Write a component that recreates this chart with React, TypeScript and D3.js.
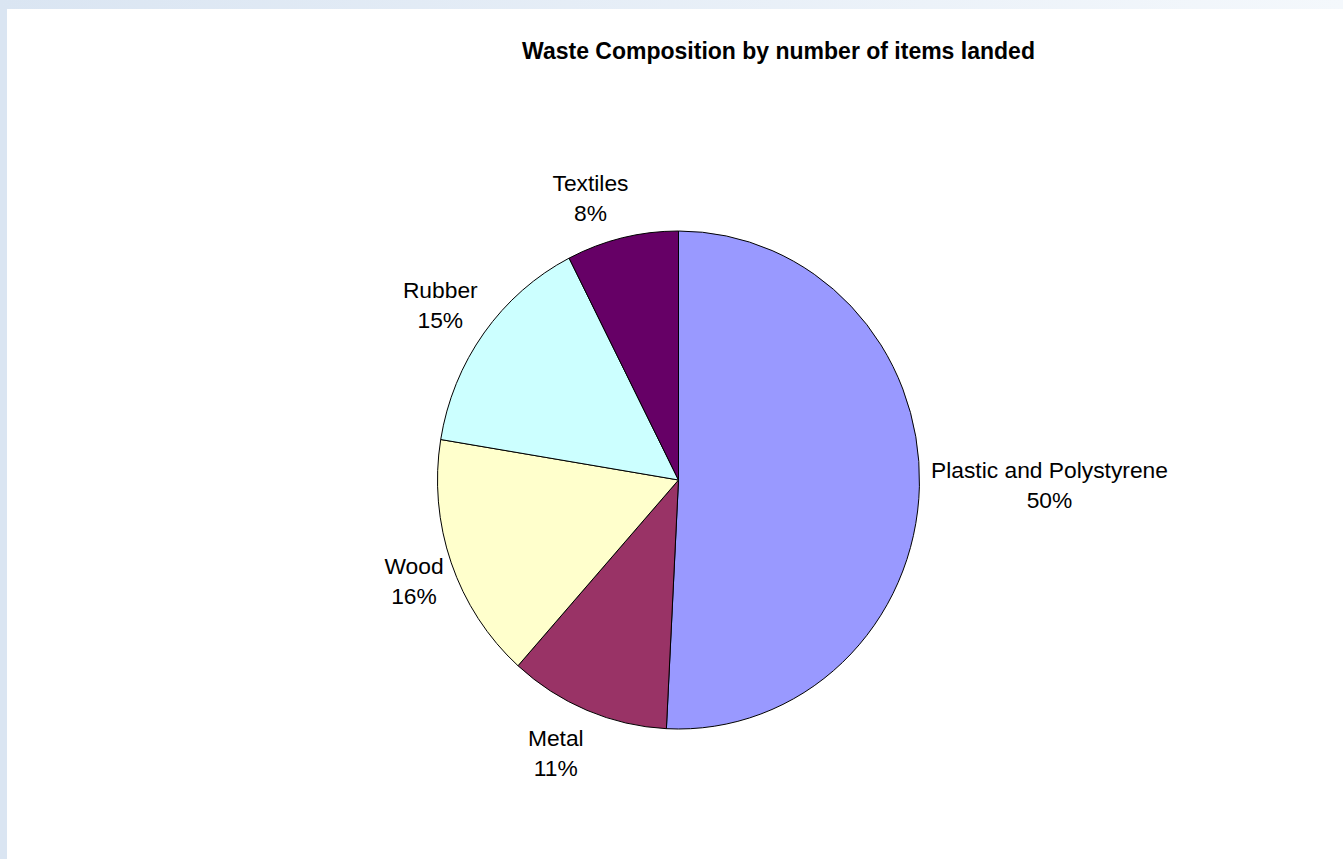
import React from "react";
import * as d3 from "d3";

const categories = ["Plastic and Polystyrene", "Metal", "Wood", "Rubber", "Textiles"];
const values = [50.8, 10.8, 16.0, 14.9, 7.5];
const percentLabels = ["50%", "11%", "16%", "15%", "8%"];
const colors = ["#9999FF", "#993366", "#FFFFCC", "#CCFFFF", "#660066"];
const title = "Waste Composition by number of items landed";

// label anchor positions (center x, first baseline y)
const labelPos: [number, number][] = [
  [1049.5, 478.3],
  [555.8, 746],
  [414, 574.3],
  [440.3, 298.3],
  [590.5, 191],
];

const W = 1343;
const H = 859;
const cx = 678.5;
const cy = 480;
const rx = 241;
const ry = 249;

export default function App() {
  const pie = d3.pie<number>().sort(null).value((d) => d);
  const arcs = pie(values);
  const arc = d3.arc<d3.PieArcDatum<number>>().innerRadius(0).outerRadius(ry);
  const font = "'Liberation Sans', Arial, sans-serif";
  return (
    <svg
      width={W}
      height={H}
      style={{ position: "absolute", left: 0, top: 0, display: "block" }}
    >
      <defs>
        <linearGradient id="topg" x1="0" x2="1" y1="0" y2="0">
          <stop offset="0" stopColor="#dae5f2" />
          <stop offset="1" stopColor="#f4f8fc" />
        </linearGradient>
      </defs>
      <rect x={0} y={0} width={W} height={H} fill="#dae5f2" />
      <rect x={0} y={0} width={W} height={9} fill="url(#topg)" />
      <rect x={7} y={9} width={W - 7} height={H - 9} fill="#ffffff" />
      <text
        x={778.5}
        y={58.5}
        textAnchor="middle"
        fontFamily={font}
        fontWeight="bold"
        fontSize={23}
        fill="#000"
      >
        {title}
      </text>
      <g transform={`translate(${cx},${cy}) scale(${rx / ry},1)`}>
        {arcs.map((a, i) => (
          <path
            key={categories[i]}
            d={arc(a) || ""}
            fill={colors[i]}
            stroke="#000"
            strokeWidth={1}
            vectorEffect="non-scaling-stroke"
          />
        ))}
      </g>
      {categories.map((c, i) => (
        <text
          key={c}
          x={labelPos[i][0]}
          y={labelPos[i][1]}
          textAnchor="middle"
          fontFamily={font}
          fontSize={22.8}
          fill="#000"
        >
          <tspan x={labelPos[i][0]}>{c}</tspan>
          <tspan x={labelPos[i][0]} dy={29.5}>
            {percentLabels[i]}
          </tspan>
        </text>
      ))}
    </svg>
  );
}
